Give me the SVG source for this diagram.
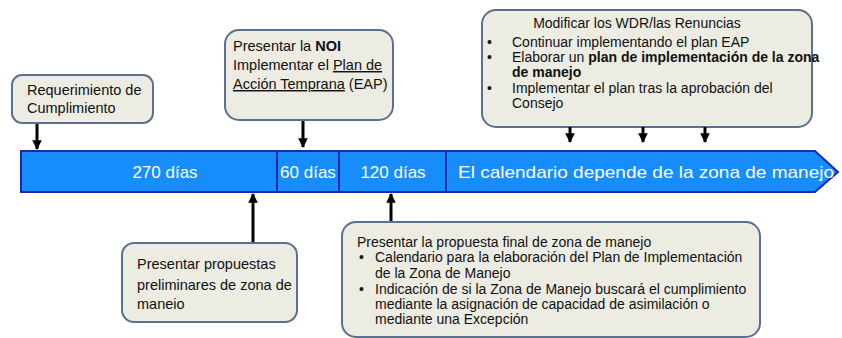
<svg xmlns="http://www.w3.org/2000/svg" width="842" height="338" viewBox="0 0 842 338">
<style>
.box{fill:#ECECE3;stroke:#5B7090;stroke-width:2}
.t{font-family:"Liberation Sans",Arial,sans-serif;font-size:14.5px;fill:#111}
.s{font-family:"Liberation Sans",Arial,sans-serif;font-size:14px;fill:#111}
.w{font-family:"Liberation Sans",Arial,sans-serif;font-size:17px;fill:#fff}
.seg{fill:#178DFB;stroke:#1A2AB0;stroke-width:2}
.c{stroke:#000;stroke-width:3;fill:none;marker-end:url(#ah)}
</style>
<defs>
<marker id="ah" viewBox="0 0 10 10" refX="9" refY="5" markerWidth="3.2" markerHeight="3.2" orient="auto" markerUnits="strokeWidth">
<path d="M0,0 L10,5 L0,10 z" fill="#000"/>
</marker>
</defs>
<rect width="842" height="338" fill="#fff"/>
<g id="timeline">
<polygon class="seg" points="21,151 815,151 838,172 815,192 21,192"/>
<line x1="277" y1="151" x2="277" y2="192" stroke="#1A2AB0" stroke-width="2"/>
<line x1="339" y1="151" x2="339" y2="192" stroke="#1A2AB0" stroke-width="2"/>
<line x1="446" y1="151" x2="446" y2="192" stroke="#1A2AB0" stroke-width="2"/>
<text class="w" x="165" y="178" text-anchor="middle">270 días</text>
<text class="w" x="308" y="178" text-anchor="middle">60 días</text>
<text class="w" x="393" y="178" text-anchor="middle">120 días</text>
<text class="w" x="458" y="178" textLength="376" lengthAdjust="spacingAndGlyphs">El calendario depende de la zona de manejo</text>
</g>
<g id="n-requerimiento">
<rect class="box" x="12" y="75" width="141" height="48" rx="10"/>
<text class="t" x="27" y="95">Requerimiento de</text>
<text class="t" x="27" y="113">Cumplimiento</text>
</g>
<g id="n-noi">
<rect class="box" x="225" y="30" width="168" height="90" rx="14"/>
<text class="t" x="233" y="51">Presentar la <tspan font-weight="bold">NOI</tspan></text>
<text class="t" x="233" y="70">Implementar el <tspan text-decoration="underline">Plan de</tspan></text>
<text class="t" x="233" y="89"><tspan text-decoration="underline">Acción Temprana</tspan> (EAP)</text>
</g>
<g id="n-wdr">
<rect class="box" x="482" y="10" width="330" height="117" rx="14"/>
<text class="s" x="637" y="28" text-anchor="middle">Modificar los WDR/las Renuncias</text>
<text class="s" x="487" y="47">•</text>
<text class="s" x="512" y="47">Continuar implementando el plan EAP</text>
<text class="s" x="487" y="62">•</text>
<text class="s" x="512" y="62">Elaborar un <tspan font-weight="bold">plan de implementación de la zona</tspan></text>
<text class="s" x="512" y="77" font-weight="bold">de manejo</text>
<text class="s" x="487" y="93">•</text>
<text class="s" x="512" y="93">Implementar el plan tras la aprobación del</text>
<text class="s" x="512" y="108">Consejo</text>
</g>
<g id="n-preliminares">
<rect class="box" x="122" y="243" width="175" height="79" rx="12"/>
<text class="t" x="137" y="269">Presentar propuestas</text>
<text class="t" x="137" y="290">preliminares de zona de</text>
<text class="t" x="137" y="309">maneio</text>
</g>
<g id="n-final">
<rect class="box" x="342" y="222" width="418" height="115" rx="14"/>
<text class="s" x="357" y="247">Presentar la propuesta final de zona de manejo</text>
<text class="s" x="359" y="262">•</text>
<text class="s" x="375" y="262">Calendario para la elaboración del Plan de Implementación</text>
<text class="s" x="375" y="278">de la Zona de Manejo</text>
<text class="s" x="359" y="294">•</text>
<text class="s" x="375" y="294">Indicación de si la Zona de Manejo buscará el cumplimiento</text>
<text class="s" x="375" y="309">mediante la asignación de capacidad de asimilación o</text>
<text class="s" x="375" y="324">mediante una Excepción</text>
</g>
<g id="connectors">
<line class="c" x1="37" y1="124" x2="37" y2="149"/>
<line class="c" x1="303" y1="121" x2="303" y2="147"/>
<line class="c" x1="570" y1="127" x2="570" y2="142"/>
<line class="c" x1="643" y1="127" x2="643" y2="142"/>
<line class="c" x1="705" y1="127" x2="705" y2="142"/>
<line class="c" x1="253" y1="242" x2="253" y2="194"/>
<line class="c" x1="391" y1="221" x2="391" y2="194"/>
</g>
</svg>
